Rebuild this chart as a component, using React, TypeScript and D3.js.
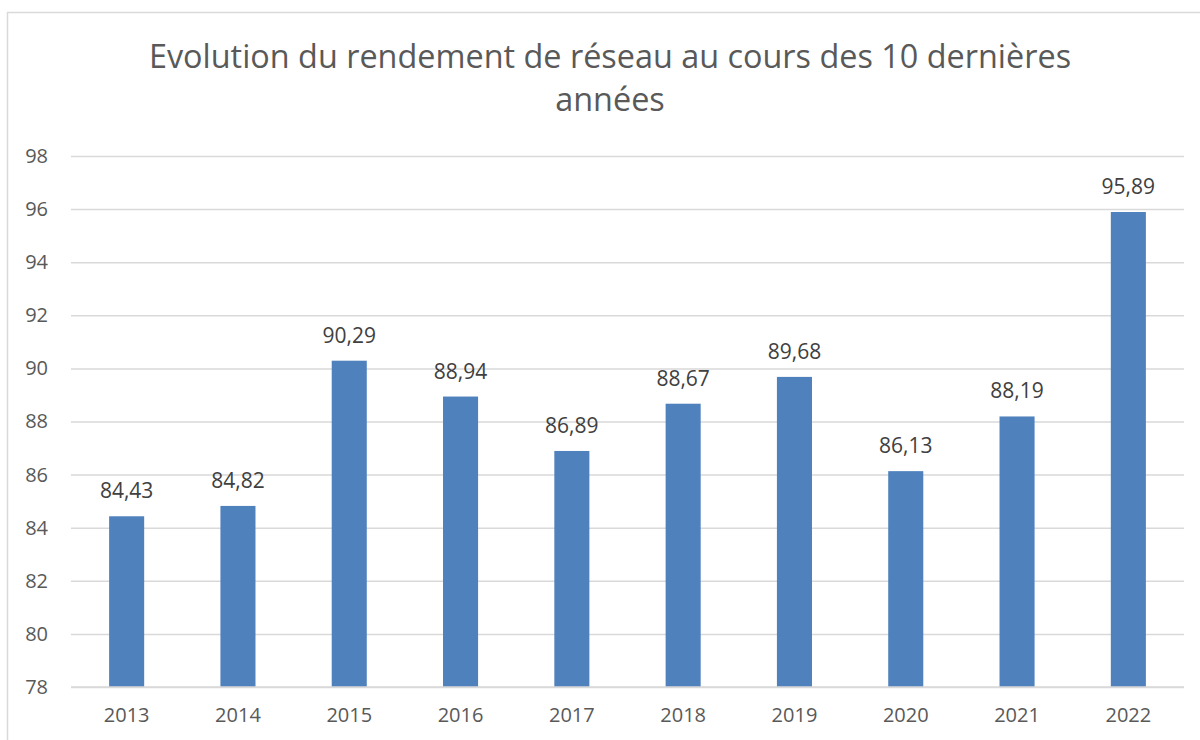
import * as d3 from "d3";
import { useRef, useEffect } from "react";

const years = ["2013", "2014", "2015", "2016", "2017", "2018", "2019", "2020", "2021", "2022"];
const rendement = [84.43, 84.82, 90.29, 88.94, 86.89, 88.67, 89.68, 86.13, 88.19, 95.89];
const yTicks = [78, 80, 82, 84, 86, 88, 90, 92, 94, 96, 98];
const titleLines = ["Evolution du rendement de réseau au cours des 10 dernières", "années"];

const App = () => {
  const svgRef = useRef<SVGSVGElement | null>(null);
  const width = 1200;
  const height = 740;
  const margin = { top: 156, right: 16, bottom: 53, left: 71 };

  useEffect(() => {
    const svgEl = d3.select(svgRef.current);
    svgEl.selectAll("*").remove();

    const font = "Open Sans, sans-serif";
    const grey = "#595959";

    // chart frame
    svgEl
      .append("rect")
      .attr("x", 7.5)
      .attr("y", 12.5)
      .attr("width", 1220)
      .attr("height", 760)
      .attr("fill", "white")
      .attr("stroke", "#d9d9d9")
      .attr("stroke-width", 1.5);

    // title
    svgEl
      .append("g")
      .selectAll("text")
      .data(titleLines)
      .enter()
      .append("text")
      .attr("x", 610)
      .attr("y", (d, i) => 68 + i * 43)
      .attr("text-anchor", "middle")
      .attr("font-family", font)
      .attr("font-size", 32.4)
      .attr("fill", grey)
      .text((d) => d);

    const innerW = width - margin.left - margin.right;
    const innerH = height - margin.top - margin.bottom;

    const xScale = d3.scaleBand().domain(years).range([0, innerW]).paddingInner(0.685).paddingOuter(0.3425);
    const yScale = d3.scaleLinear().domain([78, 98]).range([innerH, 0]);

    const svg = svgEl.append("g").attr("transform", `translate(${margin.left},${margin.top})`);

    // Y grid lines with labels
    const yAxisGroup = svg
      .append("g")
      .call(d3.axisLeft(yScale).tickValues(yTicks).tickSize(-innerW).tickPadding(23).tickFormat((v) => `${v}`));
    yAxisGroup.select(".domain").remove();
    yAxisGroup.selectAll("line").attr("stroke", "#d9d9d9").attr("stroke-width", 1.5);
    yAxisGroup
      .selectAll("text")
      .attr("fill", grey)
      .attr("font-family", font)
      .attr("font-size", 20);

    // bars
    svg
      .selectAll(".bar")
      .data(rendement)
      .enter()
      .append("rect")
      .attr("x", (d, i) => xScale(years[i]) as number)
      .attr("y", (d) => yScale(d))
      .attr("width", xScale.bandwidth())
      .attr("height", (d) => innerH - yScale(d))
      .attr("fill", "#4f81bd");

    // X axis line + labels
    svg
      .append("line")
      .attr("x1", 0)
      .attr("x2", innerW)
      .attr("y1", innerH)
      .attr("y2", innerH)
      .attr("stroke", "#d9d9d9")
      .attr("stroke-width", 1.5);
    const xAxisGroup = svg
      .append("g")
      .attr("transform", `translate(0, ${innerH})`)
      .call(d3.axisBottom(xScale).tickSize(0).tickPadding(21));
    xAxisGroup.select(".domain").remove();
    xAxisGroup
      .selectAll("text")
      .attr("fill", grey)
      .attr("font-family", font)
      .attr("font-size", 20);

    // data labels
    svg
      .selectAll(".lbl")
      .data(rendement)
      .enter()
      .append("text")
      .attr("x", (d, i) => (xScale(years[i]) as number) + xScale.bandwidth() / 2)
      .attr("y", (d) => yScale(d) - 18)
      .attr("text-anchor", "middle")
      .attr("font-family", font)
      .attr("font-size", 21)
      .attr("fill", "#404040")
      .text((d) => d.toFixed(2).replace(".", ","));
  }, []);

  return <svg ref={svgRef} width={width} height={height} style={{ display: "block", position: "absolute", left: 0, top: 0 }} />;
};

export default App;
